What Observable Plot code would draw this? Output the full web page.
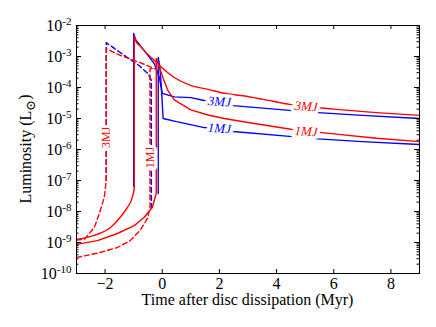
<!DOCTYPE html>
<html><head><meta charset="utf-8">
<script src="https://cdn.jsdelivr.net/npm/d3@7"></script>
<script src="https://cdn.jsdelivr.net/npm/@observablehq/plot@0.6"></script>
<style>body{margin:0;background:#fff} svg, svg text{font-family:"Liberation Serif", "DejaVu Serif", serif !important}</style>
</head><body><div id="chart"></div><script>
// Time (Myr) and luminosity (Lsun)
const red3T = [-3, -2.38, -1.82, -1.47, -1.22, -1.05, -0.98, -0.98, -0.93, -0.73, -0.49, -0.28, -0.03, 0.42, 1.01, 1.61, 2.17, 2.76, 3.5, 4.5, 6, 7.5, 9];
const red3L = [1.26e-9, 1.7e-9, 3.0e-9, 6.5e-9, 1.35e-8, 2.8e-8, 5.9e-8, 4.5e-3, 3.2e-3, 2.0e-3, 1.12e-3, 7.6e-4, 4.5e-4, 2.1e-4, 1.15e-4, 8.7e-5, 6.5e-5, 5.5e-5, 4.2e-5, 2.8e-5, 2.0e-5, 1.55e-5, 1.26e-5];
const red1T = [-3, -2.27, -1.57, -0.98, -0.63, -0.35, -0.21, -0.21, -0.1, 0.03, 0.2, 0.42, 1.0, 1.6, 2.17, 3, 4.5, 6, 7.5, 9];
const red1L = [8.7e-10, 1.15e-9, 1.95e-9, 3.5e-9, 6.5e-9, 1.35e-8, 3.8e-8, 8.7e-4, 4.5e-4, 2.0e-4, 7.9e-5, 4.0e-5, 1.9e-5, 1.3e-5, 1.0e-5, 7.4e-6, 4.5e-6, 3.2e-6, 2.3e-6, 1.8e-6];
const blue3T = [-1.0, -1.0, -0.93, -0.73, -0.5, -0.28, -0.1, 0.0, 0.42, 1.0, 1.47, 2.48, 4.55, 5.45, 7, 9];
const blue3L = [6.5e-8, 5.5e-3, 3.5e-3, 2.0e-3, 1.1e-3, 5.9e-4, 2.1e-4, 6.5e-5, 5.0e-5, 4.7e-5, 3.8e-5, 2.6e-5, 1.8e-5, 1.55e-5, 1.26e-5, 1.0e-5];
const blue1T = [-0.14, -0.14, -0.08, -0.03, 0.03, 0.5, 1.47, 2.48, 4.55, 5.45, 7, 9];
const blue1L = [3.8e-8, 9.3e-4, 4.1e-4, 1.0e-4, 1.0e-5, 7.9e-6, 5.1e-6, 3.8e-6, 2.6e-6, 2.2e-6, 1.8e-6, 1.45e-6];
// dashed tracks
const red3dT = [-3, -2.73, -2.38, -2.2, -2.03, -1.96, -1.96, -1.5, -0.8, -0.28, -0.2];
const red3dL = [1.2e-9, 1.26e-9, 3.0e-9, 8.7e-9, 2.8e-8, 1.0e-7, 1.8e-3, 1.12e-3, 6.5e-4, 4.1e-4, 4.0e-4];
const red1dT = [-3, -2.27, -1.57, -1.12, -0.77, -0.52, -0.43, -0.43, -0.28];
const red1dL = [3.3e-10, 4.5e-10, 6.9e-10, 1.15e-9, 2.5e-9, 5.9e-9, 1.26e-8, 4.0e-4, 4.1e-4];
const blue3dT = [-1.96, -1.96, -1.5, -0.8, -0.5, -0.38];
const blue3dL = [1.0e-7, 2.8e-3, 1.4e-3, 5.0e-4, 2.8e-4, 1.7e-4];
const blue1dT = [-0.38, -0.38];
const blue1dL = [1.26e-8, 1.7e-4];
// labels
const lineLabelText = ["3MJ", "1MJ", "3MJ", "1MJ"];
const lineLabelT = [2.0, 2.0, 5.03, 5.03];
const lineLabelL = [3.5e-5, 4.8e-6, 2.45e-5, 3.8e-6];
const lineLabelColor = ["blue", "blue", "red", "red"];
const vertLabelText = ["3MJ", "1MJ"];
const vertLabelT = [-1.96, -0.43];
const vertLabelL = [2.45e-6, 5.5e-7];
const xTicks = [-2, 0, 2, 4, 6, 8];
const yMajor = [1e-10, 1e-9, 1e-8, 1e-7, 1e-6, 1e-5, 1e-4, 1e-3, 1e-2];
const yMinor = [];
for (let e = -10; e < -2; e++) for (let m = 2; m <= 9; m++) yMinor.push(m * Math.pow(10, e));

const ser = (T, L) => T.map((t, i) => ({t, L: L[i]}));
const labels = lineLabelText.map((s, i) => ({s, t: lineLabelT[i], L: lineLabelL[i], c: lineLabelColor[i]}));
const vlabels = vertLabelText.map((s, i) => ({s, t: vertLabelT[i], L: vertLabelL[i]}));

const W = 436, H = 327, mL = 76, mR = 17, mT = 25, mB = 54;
const innerH = H - mT - mB, innerW = W - mL - mR;
const lw = 1.4, dash = "5,3";
const FONT = "Liberation Serif";

const plot = Plot.plot({
  width: W, height: H, marginLeft: mL, marginRight: mR, marginTop: mT, marginBottom: mB,
  style: {fontFamily: FONT, fontSize: "16px", color: "black", background: "white", overflow: "visible"},
  x: {domain: [-3, 9]},
  y: {type: "log", domain: [1e-10, 1e-2]},
  marks: [
    Plot.line(ser(blue3dT, blue3dL), {x: "t", y: "L", stroke: "blue", strokeWidth: lw, strokeDasharray: dash}),
    Plot.line(ser(blue1dT, blue1dL), {x: "t", y: "L", stroke: "blue", strokeWidth: lw, strokeDasharray: dash}),
    Plot.line(ser(blue3T, blue3L), {x: "t", y: "L", stroke: "blue", strokeWidth: lw}),
    Plot.line(ser(blue1T, blue1L), {x: "t", y: "L", stroke: "blue", strokeWidth: lw}),
    Plot.line(ser(red3dT, red3dL), {x: "t", y: "L", stroke: "red", strokeWidth: lw, strokeDasharray: dash}),
    Plot.line(ser(red1dT, red1dL), {x: "t", y: "L", stroke: "red", strokeWidth: lw, strokeDasharray: dash}),
    Plot.line(ser(red3T, red3L), {x: "t", y: "L", stroke: "red", strokeWidth: lw, curve: "monotone-x"}),
    Plot.line(ser(red1T, red1L), {x: "t", y: "L", stroke: "red", strokeWidth: lw}),
    Plot.text(labels, {x: "t", y: "L", text: "s", fill: "c", stroke: "white", strokeWidth: 7, fontStyle: "italic", fontSize: 13, rotate: 4, fontFamily: FONT}),
    Plot.text(vlabels, {x: "t", y: "L", text: "s", fill: "red", stroke: "white", strokeWidth: 6, fontSize: 12, rotate: -90, fontFamily: FONT}),
    Plot.frame({stroke: "black", strokeWidth: 1}),
    Plot.tickX(xTicks, {x: d => d, insetTop: innerH - 4, stroke: "black"}),
    Plot.tickX(xTicks, {x: d => d, insetBottom: innerH - 4, stroke: "black"}),
    Plot.tickY(yMajor, {y: d => d, insetRight: innerW - 5, stroke: "black"}),
    Plot.tickY(yMajor, {y: d => d, insetLeft: innerW - 5, stroke: "black"}),
    Plot.tickY(yMinor, {y: d => d, insetRight: innerW - 2.5, stroke: "black"}),
    Plot.tickY(yMinor, {y: d => d, insetLeft: innerW - 2.5, stroke: "black"}),
    Plot.axisX({ticks: xTicks, tickSize: 0, tickPadding: 4, label: null, fontSize: 16, fontFamily: FONT}),
    Plot.axisY({ticks: yMajor, tickSize: 0, tickPadding: 5, label: null, fontSize: 16, fontFamily: FONT, tickFormat: d => String(Math.round(Math.log10(d)))})
  ]
});

const svg = d3.select(plot);
svg.selectAll('g[aria-label="y-axis tick label"] text').each(function () {
  const t = d3.select(this);
  const e = t.text();
  t.text("10");
  t.append("tspan").attr("dy", "-0.5em").attr("font-size", 11).text(e);
});
svg.append("text").attr("x", mL + innerW / 2).attr("y", 305).attr("text-anchor", "middle")
  .attr("font-size", 16).attr("fill", "black").text("Time after disc dissipation (Myr)");
const yl = svg.append("text").attr("transform", `translate(31,${mT + innerH / 2}) rotate(-90)`)
  .attr("text-anchor", "middle").attr("font-size", 16).attr("fill", "black");
yl.append("tspan").text("Luminosity (L");
yl.append("tspan").attr("dy", "0.3em").attr("font-size", 13).text("\u2299");
yl.append("tspan").attr("dy", "-0.3em").text(")");
svg.selectAll("text").style("font-family", FONT);
svg.style("font-family", FONT);
document.getElementById("chart").appendChild(plot);
</script></body></html>
